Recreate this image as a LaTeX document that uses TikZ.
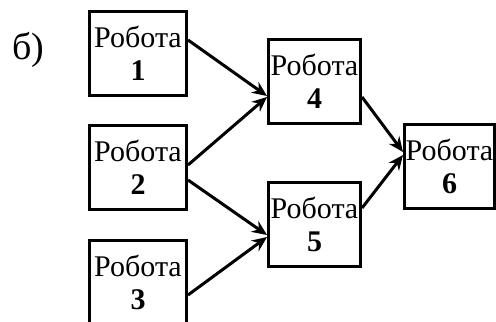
\documentclass[tikz,border=0pt]{standalone}
\usepackage{fontspec}
\setmainfont{Liberation Serif}
\usetikzlibrary{arrows.meta,calc}
\begin{document}
\begin{tikzpicture}[x=0.5pt,y=-0.5pt,
				robot/.style={draw,line width=1.5pt,inner sep=0pt,
					minimum width=48.5pt,minimum height=42pt,align=center,
					font=\fontsize{15}{16.5}\selectfont},
				flow/.style={line width=1.5pt,-{Stealth[length=7.5pt,width=6.5pt,inset=2.5pt]}}]
	      \useasboundingbox (0,0) rectangle (496,321);
	      % Definir los nodos
	      \node[font=\fontsize{19}{21}\selectfont] (lbl) at (28,50) {б)};
	      \node[robot] (r1) at (138,53.5) {Робота\\\textbf{1}};
	      \node[robot] (r2) at (138,167) {Робота\\\textbf{2}};
	      \node[robot] (r3) at (138,282) {Робота\\\textbf{3}};
	      \node[robot,minimum width=46pt] (r4) at (314.5,81.5) {Робота\\\textbf{4}};
	      \node[robot,minimum width=46pt] (r5) at (314.5,224.5) {Робота\\\textbf{5}};
	      \node[robot,minimum width=45pt] (r6) at (449.5,166.5) {Робота\\\textbf{6}};
	      % Conexiones
	      \draw[flow] ($(r1.east)+(0,-13.5)$) -- ($(r4.west)+(0,14.5)$);
	      \draw[flow] ($(r2.east)+(0,-2)$) -- ($(r4.west)+(0,15.5)$);
	      \draw[flow] ($(r2.east)+(0,13)$) -- ($(r5.west)+(0,10.5)$);
	      \draw[flow] ($(r3.east)+(0,13)$) -- ($(r5.west)+(0,12.5)$);
	      \draw[flow] ($(r4.east)+(0,15.5)$) -- ($(r6.west)+(0,-14.5)$);
	      \draw[flow] ($(r5.east)+(0,-16.5)$) -- ($(r6.west)+(0,-11.5)$);
\end{tikzpicture}
\end{document}
